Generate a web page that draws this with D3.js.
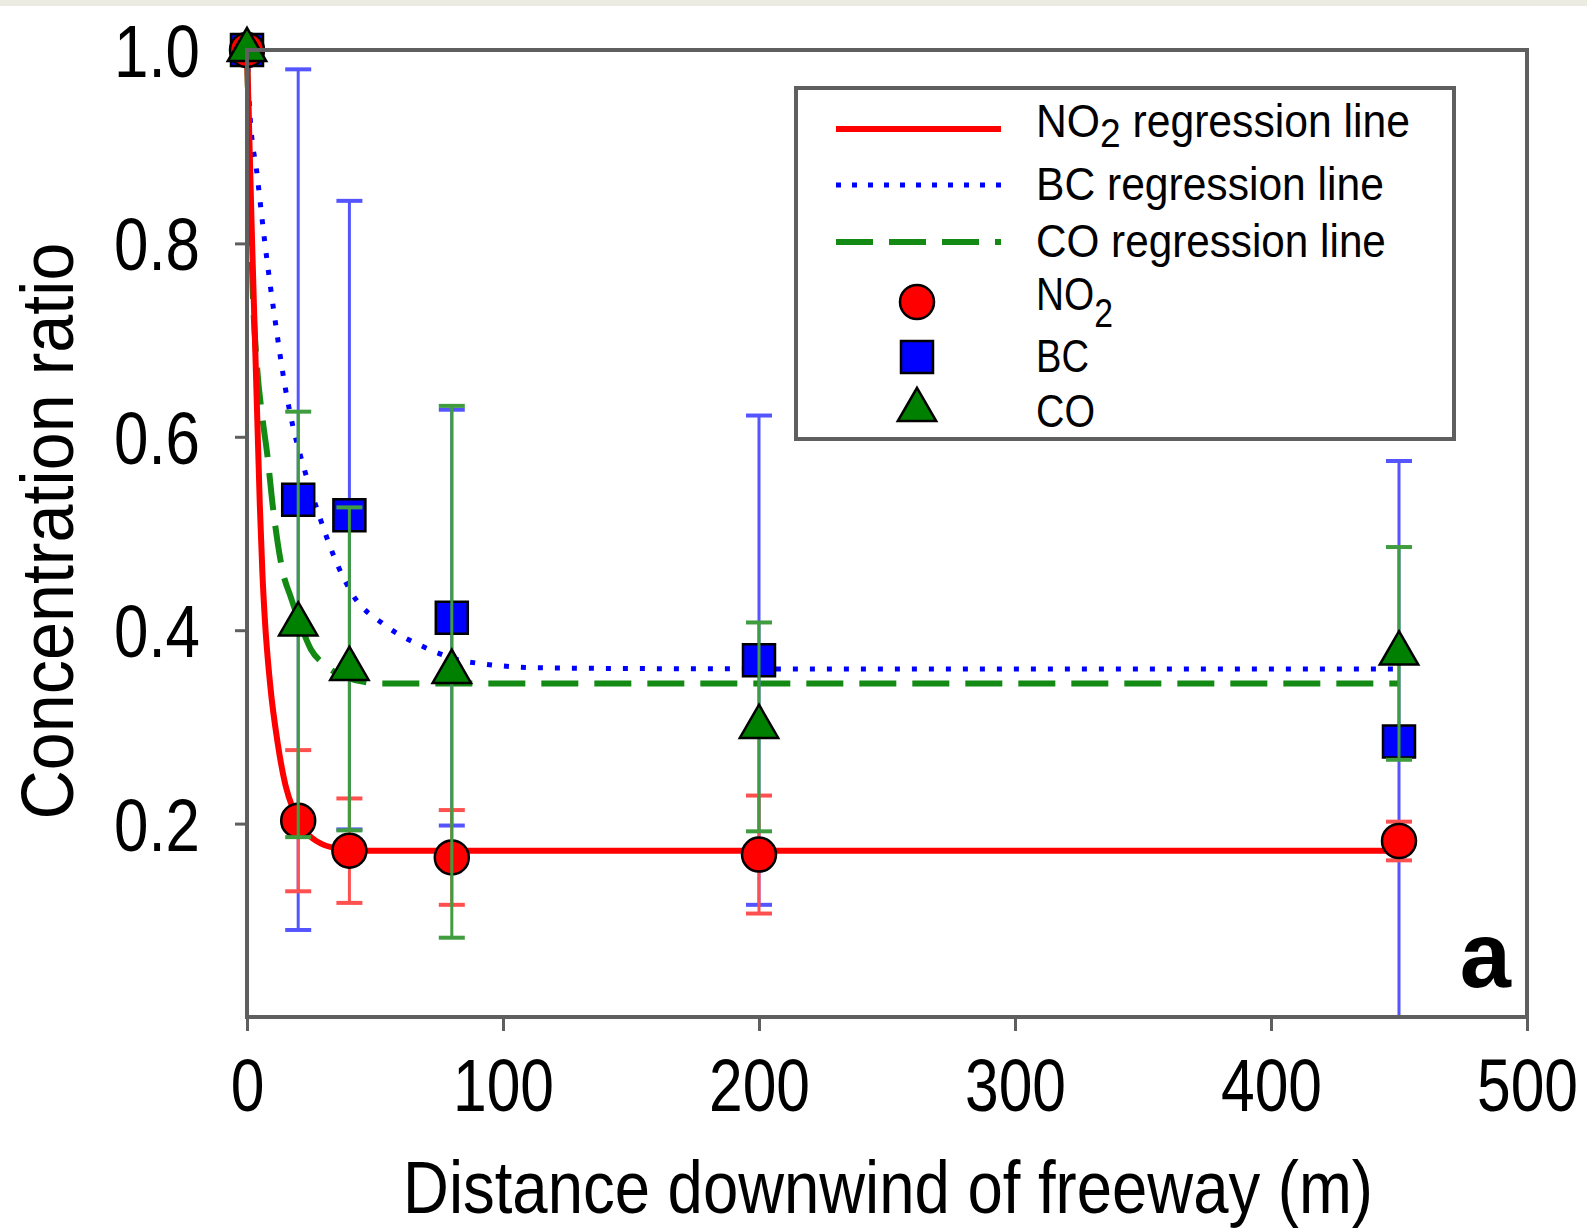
<!DOCTYPE html>
<html>
<head>
<meta charset="utf-8">
<script src="https://cdn.jsdelivr.net/npm/d3@7"></script>
<style>
  html, body { margin: 0; padding: 0; background: #ffffff; }
  svg { display: block; }
  text { font-family: "Liberation Sans Narrow", "Liberation Sans", Arial, sans-serif; fill: #000; }
</style>
</head>
<body>
<div id="chart"></div>
<script>
// distance downwind (m) and concentration ratios
const distances = [0, 20, 40, 80, 200, 450];

const no2Ratio = [1.0, 0.203, 0.172, 0.165, 0.168, 0.182];
const no2Error = [0, 0.073, 0.054, 0.049, 0.061, 0.02];

const bcRatio = [1.0, 0.535, 0.519, 0.413, 0.369, 0.285];
const bcError = [0, 0.445, 0.325, 0.215, 0.253, 0.29];

const coRatio = [1.0, 0.406, 0.36, 0.357, 0.30, 0.376];
const coError = [0, 0.22, 0.167, 0.275, 0.108, 0.11];

// regression curves as [distance, ratio]
const no2Fit = [[0, 1.0], [1, 0.9], [2, 0.8], [3, 0.71], [4, 0.62], [5, 0.53], [6, 0.46], [7, 0.41],
  [9, 0.345], [12, 0.283], [15, 0.24], [18, 0.215], [21, 0.198], [25, 0.186], [30, 0.178],
  [36, 0.174], [45, 0.172], [450, 0.172]];
const bcFit = [[0, 1.0], [1, 0.94], [4, 0.87], [7, 0.8], [11, 0.72], [15, 0.65], [18, 0.61],
  [22, 0.57], [28, 0.52], [34, 0.476], [41, 0.438], [54, 0.405], [68, 0.384], [87, 0.367],
  [117, 0.361], [200, 0.36], [450, 0.36]];
const coFit = [[0, 1.0], [1, 0.88], [2, 0.77], [4, 0.67], [6, 0.62], [8, 0.58], [10, 0.53],
  [12, 0.49], [14, 0.46], [17, 0.435], [21, 0.405], [25, 0.38], [30, 0.365], [38, 0.352],
  [52, 0.345], [450, 0.345]];

const xTicks = [0, 100, 200, 300, 400, 500];
const yTicks = [0.2, 0.4, 0.6, 0.8, 1.0];

const xTitle = 'Distance downwind of freeway (m)';
const yTitle = 'Concentration ratio';
const panelLetter = 'a';

(function () {
    'use strict';

    const W = 1587, H = 1229;
    const plot = { left: 247, right: 1527, top: 50, bottom: 1017 };

    const svg = d3.select('#chart').append('svg')
        .attr('width', W)
        .attr('height', H);

    // thin beige strip along the top of the scan
    svg.append('rect')
        .attr('x', 0).attr('y', 0).attr('width', W).attr('height', 6)
        .attr('fill', '#ecebe1');

    const x = d3.scaleLinear().domain([0, 500]).range([plot.left, plot.right]);
    const y = d3.scaleLinear().domain([0, 1]).range([plot.bottom, plot.top]).clamp(true);

    // squeeze text horizontally around its anchor point
    function squeeze(node, factor) {
        const bb = node.getBBox();
        const anchor = window.getComputedStyle(node).textAnchor || 'start';
        let p = bb.x;
        if (anchor === 'end') { p = bb.x + bb.width; }
        if (anchor === 'middle') { p = bb.x + bb.width / 2; }
        node.setAttribute('transform',
            'translate(' + p + ',0) scale(' + factor + ',1) translate(' + (-p) + ',0)');
    }
    function fitWidth(node, target) {
        squeeze(node, target / node.getBBox().width);
    }

    // axes
    const axisColor = '#5f5f5f';

    const gy = svg.append('g')
        .attr('transform', 'translate(' + plot.left + ',0)')
        .call(d3.axisLeft(y).tickValues(yTicks).tickFormat(d3.format('.1f'))
            .tickSize(12).tickSizeOuter(0).tickPadding(35));
    gy.select('.domain').remove();
    gy.selectAll('.tick line').attr('stroke', axisColor).attr('stroke-width', 3);
    gy.selectAll('.tick text')
        .attr('font-size', 74)
        .attr('font-family', null)
        .attr('dy', '0.358em');

    const gx = svg.append('g')
        .attr('transform', 'translate(0,' + plot.bottom + ')')
        .call(d3.axisBottom(x).tickValues(xTicks).tickFormat(d3.format('d'))
            .tickSize(14).tickSizeOuter(0));
    gx.select('.domain').remove();
    gx.selectAll('.tick line').attr('stroke', axisColor).attr('stroke-width', 3);
    gx.selectAll('.tick text')
        .attr('font-size', 74)
        .attr('font-family', null)
        .attr('y', 94)
        .attr('dy', 0);

    // condense tick labels to match the narrow face of the original
    const yRef = gy.selectAll('.tick text').filter(function (d) { return d === 0.8; }).node();
    const yFactor = 86 / yRef.getBBox().width;
    gy.selectAll('.tick text').each(function () { squeeze(this, yFactor); });
    const xRef = gx.selectAll('.tick text').filter(function (d) { return d === 100; }).node();
    const xFactor = 101 / xRef.getBBox().width;
    gx.selectAll('.tick text').each(function () { squeeze(this, xFactor); });

    // axis titles
    const xt = svg.append('text')
        .attr('x', 888).attr('y', 1213)
        .attr('text-anchor', 'middle')
        .attr('font-size', 74)
        .text(xTitle);
    fitWidth(xt.node(), 970);

    const yg = svg.append('g').attr('transform', 'translate(73,531) rotate(-90)');
    const yt = yg.append('text')
        .attr('x', 0).attr('y', 0)
        .attr('text-anchor', 'middle')
        .attr('font-size', 74)
        .text(yTitle);
    fitWidth(yt.node(), 577);

    // regression lines
    const line = d3.line()
        .x(function (d) { return x(d[0]); })
        .y(function (d) { return y(d[1]); })
        .curve(d3.curveMonotoneX);

    const lines = svg.append('g').attr('class', 'fits').attr('fill', 'none');
    lines.append('path').datum(coFit)
        .attr('d', line)
        .attr('stroke', '#138a13').attr('stroke-width', 6)
        .attr('stroke-dasharray', '37,16');
    lines.append('path').datum(bcFit)
        .attr('d', line)
        .attr('stroke', '#0000ff').attr('stroke-width', 5)
        .attr('stroke-dasharray', '5,12');
    lines.append('path').datum(no2Fit)
        .attr('d', line)
        .attr('stroke', '#ff0000').attr('stroke-width', 6);

    // error bars + markers per series
    function rows(means, errs) {
        return distances.map(function (d, i) {
            return { x: d, m: means[i], e: errs[i] };
        });
    }

    function errorBars(data, color) {
        const g = svg.append('g').attr('stroke', color).attr('fill', 'none');
        const withErr = data.filter(function (d) { return d.e > 0; });
        g.selectAll('line.stem').data(withErr).enter().append('line')
            .attr('class', 'stem')
            .attr('x1', function (d) { return x(d.x); })
            .attr('x2', function (d) { return x(d.x); })
            .attr('y1', function (d) { return y(d.m - d.e); })
            .attr('y2', function (d) { return y(d.m + d.e); })
            .attr('stroke-width', 3);
        const caps = [];
        withErr.forEach(function (d) {
            caps.push({ x: d.x, v: d.m - d.e });
            caps.push({ x: d.x, v: d.m + d.e });
        });
        g.selectAll('line.cap').data(caps).enter().append('line')
            .attr('class', 'cap')
            .attr('x1', function (d) { return x(d.x) - 13; })
            .attr('x2', function (d) { return x(d.x) + 13; })
            .attr('y1', function (d) { return y(d.v); })
            .attr('y2', function (d) { return y(d.v); })
            .attr('stroke-width', 4);
    }

    const bcRows = rows(bcRatio, bcError);
    const no2Rows = rows(no2Ratio, no2Error);
    const coRows = rows(coRatio, coError);

    const squareSym = d3.symbol().type(d3.symbolSquare).size(32 * 32);
    const triSym = d3.symbol().type(d3.symbolTriangle).size(640);

    errorBars(bcRows, '#5555ff');
    svg.append('g').selectAll('path').data(bcRows).enter().append('path')
        .attr('d', squareSym)
        .attr('transform', function (d) { return 'translate(' + x(d.x) + ',' + y(d.m) + ')'; })
        .attr('fill', '#0000ff').attr('stroke', '#000').attr('stroke-width', 2.5);

    errorBars(no2Rows, '#ff5050');
    svg.append('g').selectAll('circle').data(no2Rows).enter().append('circle')
        .attr('cx', function (d) { return x(d.x); })
        .attr('cy', function (d) { return y(d.m); })
        .attr('r', 17)
        .attr('fill', '#ff0000').attr('stroke', '#000').attr('stroke-width', 2.5);

    errorBars(coRows, '#3f9c3f');
    svg.append('g').selectAll('path').data(coRows).enter().append('path')
        .attr('d', triSym)
        .attr('transform', function (d) { return 'translate(' + x(d.x) + ',' + y(d.m) + ')'; })
        .attr('fill', '#008000').attr('stroke', '#000').attr('stroke-width', 2.5);

    // plot frame
    svg.append('rect')
        .attr('x', plot.left).attr('y', plot.top)
        .attr('width', plot.right - plot.left)
        .attr('height', plot.bottom - plot.top)
        .attr('fill', 'none')
        .attr('stroke', axisColor).attr('stroke-width', 4);

    // panel letter
    svg.append('text')
        .attr('x', 1511).attr('y', 987)
        .attr('text-anchor', 'end')
        .attr('font-size', 92)
        .attr('font-weight', 'bold')
        .attr('font-family', 'Liberation Sans, Arial, sans-serif')
        .text(panelLetter);

    // legend
    const lg = svg.append('g').attr('class', 'legend');
    lg.append('rect')
        .attr('x', 796).attr('y', 88).attr('width', 658).attr('height', 351)
        .attr('fill', '#fff')
        .attr('stroke', axisColor).attr('stroke-width', 4);

    const legendItems = [
        { name: 'NO', sub: '2', rest: ' regression line', kind: 'line', color: '#ff0000', dash: null, w: 6, cy: 129, base: 137, subDy: 10, tw: 374 },
        { name: 'BC regression line', kind: 'line', color: '#0000ff', dash: '5,11', w: 5, cy: 185, base: 200, tw: 348 },
        { name: 'CO regression line', kind: 'line', color: '#138a13', dash: '37,16', w: 6, cy: 242, base: 257, tw: 350 },
        { name: 'NO', sub: '2', rest: '', kind: 'circle', cy: 302, base: 310, subDy: 17, tw: 77 },
        { name: 'BC', kind: 'square', cy: 357, base: 372, tw: 53 },
        { name: 'CO', kind: 'triangle', cy: 410, base: 427, tw: 59 }
    ];

    legendItems.forEach(function (it) {
        if (it.kind === 'line') {
            lg.append('line')
                .attr('x1', 836).attr('x2', 1001)
                .attr('y1', it.cy).attr('y2', it.cy)
                .attr('stroke', it.color).attr('stroke-width', it.w)
                .attr('stroke-dasharray', it.dash);
        } else if (it.kind === 'circle') {
            lg.append('circle')
                .attr('cx', 917).attr('cy', it.cy).attr('r', 17)
                .attr('fill', '#ff0000').attr('stroke', '#000').attr('stroke-width', 2.5);
        } else if (it.kind === 'square') {
            lg.append('path').attr('d', squareSym)
                .attr('transform', 'translate(917,' + it.cy + ')')
                .attr('fill', '#0000ff').attr('stroke', '#000').attr('stroke-width', 2.5);
        } else {
            lg.append('path').attr('d', triSym)
                .attr('transform', 'translate(917,' + it.cy + ')')
                .attr('fill', '#008000').attr('stroke', '#000').attr('stroke-width', 2.5);
        }
        const t = lg.append('text')
            .attr('x', 1036).attr('y', it.base)
            .attr('font-size', 46);
        t.append('tspan').text(it.name);
        if (it.sub) {
            t.append('tspan').attr('font-size', 40).attr('dy', it.subDy).text(it.sub);
            if (it.rest) {
                t.append('tspan').attr('dy', -it.subDy).text(it.rest);
            }
        }
        fitWidth(t.node(), it.tw);
    });
})();
</script>
</body>
</html>
